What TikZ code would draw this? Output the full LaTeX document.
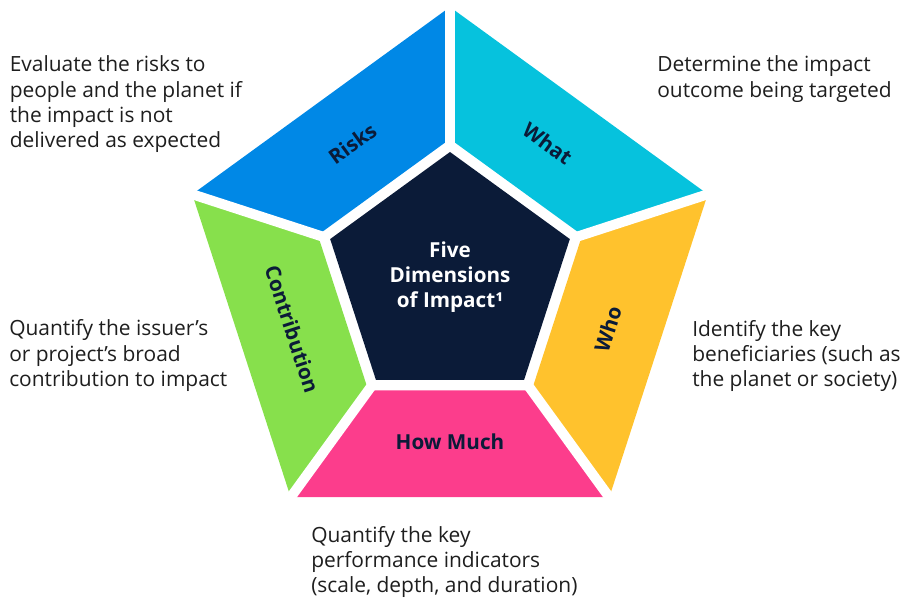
\documentclass[tikz,border=0pt]{standalone}
\usepackage{fontspec}
\setmainfont{Open Sans}
\usetikzlibrary{calc}
\definecolor{riskblue}{HTML}{0088E6}
\definecolor{whatcyan}{HTML}{06C2DD}
\definecolor{whoyellow}{HTML}{FFC22D}
\definecolor{muchpink}{HTML}{FC3D8C}
\definecolor{contribgreen}{HTML}{87E04C}
\definecolor{navy}{HTML}{0B1B38}
\definecolor{bodytext}{HTML}{1E1E1E}
\begin{document}
\begin{tikzpicture}[x=0.75pt,y=-0.75pt,
  gapline/.style={draw=white,line width=7.5pt},
  % anchor sits on the baseline of the last line of each block
  desc/.style={anchor=base west,align=left,inner sep=0pt,text=bodytext,
    font=\fontsize{15.7}{19}\selectfont},
  dimlabel/.style={text=navy,inner sep=0pt,
    font=\fontsize{15.5}{19}\selectfont\bfseries},
  core/.style={text=white,align=center,inner sep=0pt,
    font=\fontsize{15.5}{19}\selectfont\bfseries}]
\useasboundingbox (0,0) rectangle (906,599);
% centre of the pentagon and its three rings of vertices
\coordinate (c) at (450,278);
\foreach \n/\a in {t/-90,r/-18,br/54,bl/126,l/198}{
  \coordinate (o\n) at ($(c)+(\a:271)$);
  \coordinate (i\n) at ($(c)+(\a:139)$);
  \coordinate (d\n) at ($(c)+(\a:126)$);
}
% the five outer segments
\fill[riskblue] (ot) -- (ol) -- (il) -- (it) -- cycle;
\fill[whatcyan] (ot) -- (or) -- (ir) -- (it) -- cycle;
\fill[whoyellow] (or) -- (obr) -- (ibr) -- (ir) -- cycle;
\fill[muchpink] (obr) -- (obl) -- (ibl) -- (ibr) -- cycle;
\fill[contribgreen] (obl) -- (ol) -- (il) -- (ibl) -- cycle;
% white gaps between the segments
\foreach \n in {t,r,br,bl,l}
  \draw[gapline] ($(i\n)!-6pt!(o\n)$) -- ($(o\n)!-6pt!(i\n)$);
% inner pentagon
\fill[navy] (dt) -- (dr) -- (dbr) -- (dbl) -- (dl) -- cycle;
\node[core] (centre) at (450,277) {Five\\Dimensions\\of Impact¹};
% segment labels
\node[dimlabel,rotate=36] (risks) at ($(c)+(-126:166)$) {Risks};
\node[dimlabel,rotate=-36] (what) at ($(c)+(-54:166)$) {What};
\node[dimlabel,rotate=72] (who) at ($(c)+(18:166)$) {Who};
\node[dimlabel] (howmuch) at ($(c)+(90:164)$) {How Much};
\node[dimlabel,rotate=-72] (contrib) at ($(c)+(162:166)$) {Contribution};
% descriptions
\node[desc] (riskdesc) at (9.5,147.7) {Evaluate the risks to\\people and the planet if\\the impact is not\\delivered as expected};
\node[desc] (whatdesc) at (657,97.3) {Determine the impact\\outcome being targeted};
\node[desc] (contribdesc) at (9,386.4) {Quantify the issuer’s\\or project’s broad\\contribution to impact};
\node[desc] (whodesc) at (692,386.7) {Identify the key\\beneficiaries (such as\\the planet or society)};
\node[desc] (muchdesc) at (311,592.7) {Quantify the key\\performance indicators\\(scale, depth, and duration)};
\end{tikzpicture}
\end{document}
